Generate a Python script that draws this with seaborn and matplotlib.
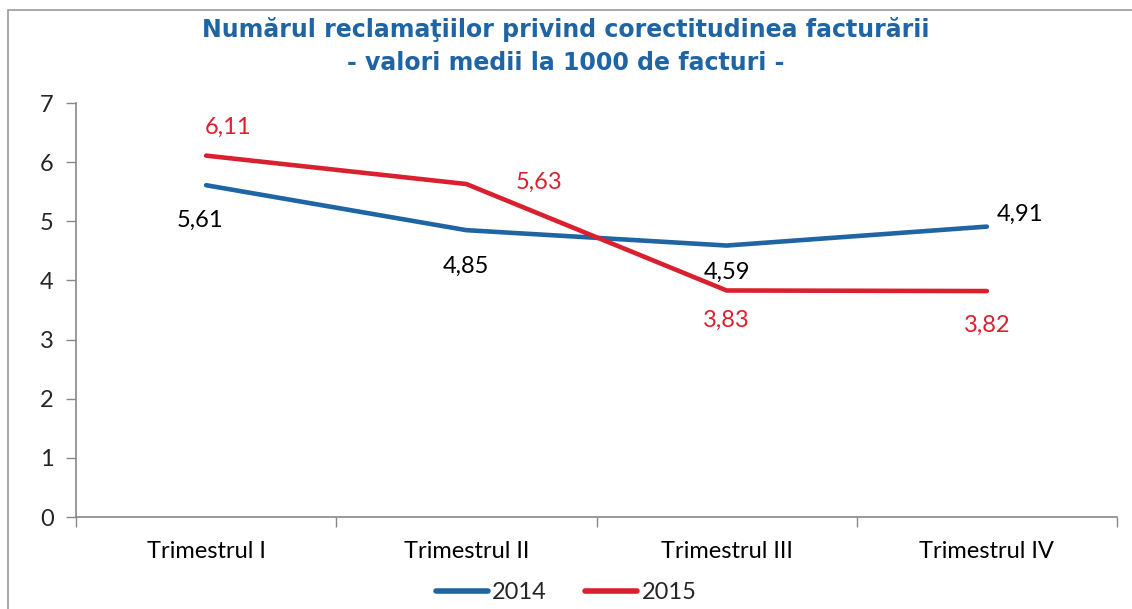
import matplotlib
matplotlib.use("Agg")
import matplotlib.pyplot as plt
import seaborn as sns
import pandas as pd
from matplotlib.patches import Rectangle
from matplotlib.lines import Line2D

categories = ["Trimestrul I", "Trimestrul II", "Trimestrul III", "Trimestrul IV"]
values_2014 = [5.61, 4.85, 4.59, 4.91]
values_2015 = [6.11, 5.63, 3.83, 3.82]
series = ["2014", "2015"]
colors = {"2014": "#1F64A3", "2015": "#D9202F"}

sns.set_theme(style="white")
plt.rcParams['font.family'] = ['Lato', 'DejaVu Sans']

rows = []
for i, c in enumerate(categories):
    rows.append({"x": i, "cat": c, "val": values_2014[i], "s": "2014"})
    rows.append({"x": i, "cat": c, "val": values_2015[i], "s": "2015"})
df = pd.DataFrame(rows)

fig = plt.figure(figsize=(11.32, 6.09), dpi=100)
ax = fig.add_axes([76/1132, 92/609, (1117-76)/1132, (517-103)/609])

sns.lineplot(data=df, x="x", y="val", hue="s", palette=colors, linewidth=3.3,
             ax=ax, legend=False, solid_capstyle="round")

FS = 17
ax.set_xlim(-0.5, 3.5)
ax.set_ylim(0, 7)
ax.set_yticks(range(0, 8))
ax.set_xticks([])
ax.set_xticks([-0.5, 0.5, 1.5, 2.5, 3.5], minor=True)
ax.tick_params(axis='x', which='minor', length=7, width=1, color='#888888', direction='out', bottom=True)
ax.tick_params(axis='y', which='major', length=7, width=1, color='#888888', direction='out', left=True, labelsize=FS, pad=9)
for i, c in enumerate(categories):
    ax.text(i, -0.4, c, ha='center', va='top', fontsize=FS, color='black')
for side in ['top', 'right']:
    ax.spines[side].set_visible(False)
for side in ['left', 'bottom']:
    ax.spines[side].set_color('#888888')
    ax.spines[side].set_linewidth(1.2)
ax.set_xlabel("")
ax.set_ylabel("")

def fmt(v):
    return f"{v:.2f}".replace(".", ",")

offs_2014 = [(-6, -0.59), (0, -0.61), (0, -0.46), (33, 0.2)]
for i, v in enumerate(values_2014):
    dx, dy = offs_2014[i]
    ax.text(i + dx/260, v + dy, fmt(v), ha='center', va='center', fontsize=FS, color='black')
offs_2015 = [(22, 0.48), (73, 0.02), (0, -0.5), (0, -0.58)]
for i, v in enumerate(values_2015):
    dx, dy = offs_2015[i]
    ax.text(i + dx/260, v + dy, fmt(v), ha='center', va='center', fontsize=FS, color=colors["2015"])

fig.text(0.5, 0.952, "Numărul reclamaţiilor privind corectitudinea facturării",
         ha='center', va='center', fontsize=17, fontweight='bold', color='#1F64A3',
         family=['DejaVu Sans'])
fig.text(0.5, 0.897, "- valori medii la 1000 de facturi -",
         ha='center', va='center', fontsize=17, fontweight='bold', color='#1F64A3',
         family=['DejaVu Sans'])

handles = [Line2D([0], [0], color=colors[s], linewidth=4, solid_capstyle='round') for s in series]
fig.legend(handles, series, loc='center', bbox_to_anchor=(0.5, 0.027), ncol=2, frameon=False,
           fontsize=FS, handlelength=2.2, columnspacing=1.6, handletextpad=0.2)

fig.patches.append(Rectangle((8/1132, -0.1), 1.2, (609-10)/609 + 0.1, transform=fig.transFigure,
                             fill=False, edgecolor='#9a9a9a', linewidth=1.2))

fig.savefig("out.png", dpi=100, facecolor='white')
